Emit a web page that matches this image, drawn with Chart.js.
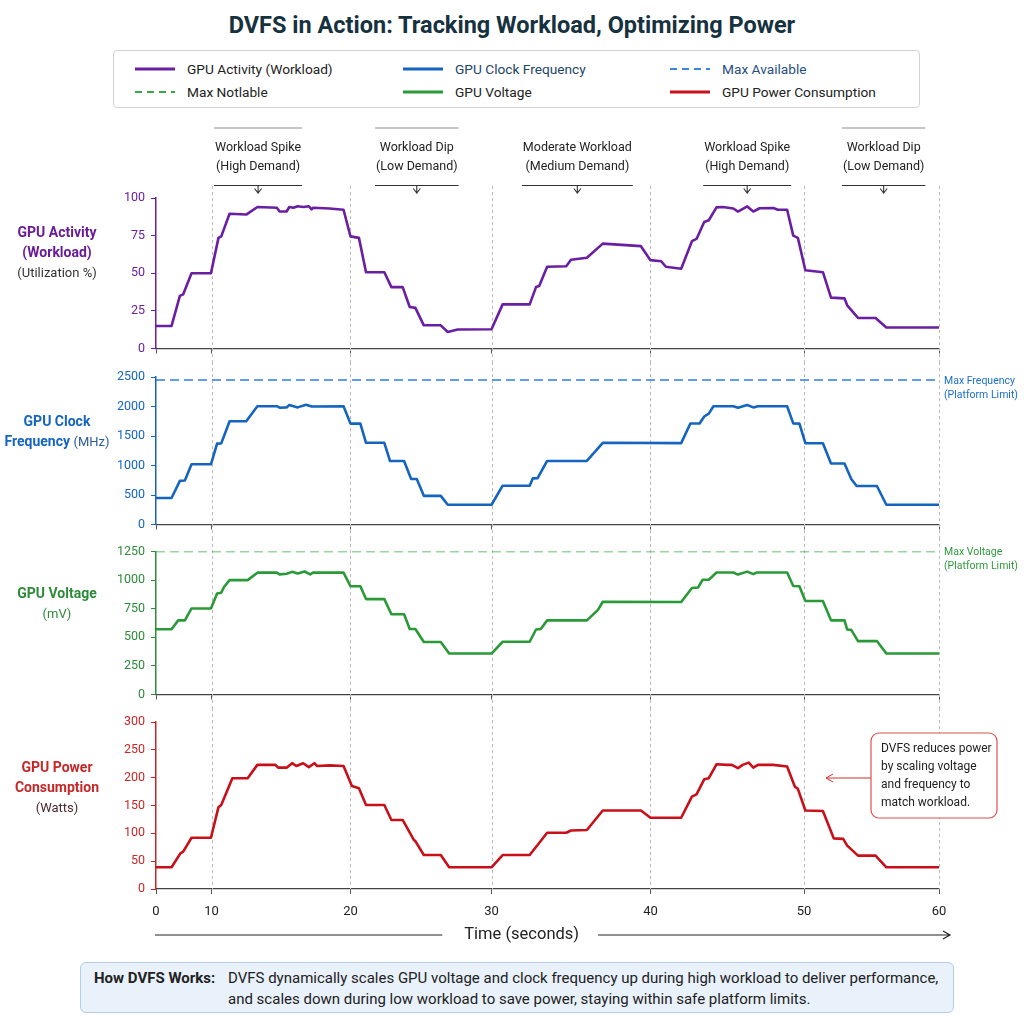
<!DOCTYPE html>
<html>
<head>
<meta charset="utf-8">
<script src="https://cdn.jsdelivr.net/npm/chart.js@4.4.1/dist/chart.umd.min.js"></script>
<style>
  body { margin: 0; background: #fff; font-family: Roboto, "Liberation Sans", sans-serif; }
  #page { position: relative; width: 1024px; height: 1024px; overflow: hidden; background: #fff; }
  canvas { position: absolute; left: 0; }
  #title { position: absolute; left: 0; width: 1024px; top: 11px; text-align: center; font-size: 23.5px; font-weight: bold; color: #17323f; }
  #legend { position: absolute; left: 113px; top: 50px; width: 805px; height: 56px; border: 1px solid #d3d3d3; border-radius: 4px; background: #fff; }
  .lg { position: absolute; font-size: 13.7px; line-height: 16px; white-space: nowrap; }
  .lg svg { position: absolute; left: 0; top: 6px; }
  .lg span { position: absolute; left: 52px; top: 0; }
  .ytitle { position: absolute; left: 0; width: 114px; text-align: center; font-size: 14px; line-height: 20px; }
  .ytitle .u { font-weight: normal; font-size: 13px; }
  #info { position: absolute; left: 80px; top: 962px; width: 872px; height: 49px; background: #e9f1fb; border: 1px solid #b5cde9; border-radius: 6px; font-size: 15px; color: #222; }
  #info b { position: absolute; left: 13px; top: 5px; line-height: 21px; }
  #info span { position: absolute; left: 147px; top: 5px; line-height: 21px; white-space: nowrap; }
</style>
</head>
<body>
<div id="page">
  <div id="title">DVFS in Action: Tracking Workload, Optimizing Power</div>
  <div id="legend"></div>

  <canvas id="c1" width="1024" height="250" style="top:112px"></canvas>
  <canvas id="c2" width="1024" height="176" style="top:362px"></canvas>
  <canvas id="c3" width="1024" height="170" style="top:538px"></canvas>
  <canvas id="c4" width="1024" height="242" style="top:708px"></canvas>

  <div class="ytitle" style="top:222px"><b style="color:#6a1b9a">GPU Activity</b><br><b style="color:#6a1b9a">(Workload)</b><br><span class="u" style="color:#333">(Utilization %)</span></div>
  <div class="ytitle" style="top:411px"><b style="color:#1565c0">GPU Clock</b><br><b style="color:#1565c0">Frequency</b> <span class="u" style="color:#2a5d9a">(MHz)</span></div>
  <div class="ytitle" style="top:583px"><b style="color:#2e8b3a">GPU Voltage</b><br><span class="u" style="color:#2e8b3a">(mV)</span></div>
  <div class="ytitle" style="top:757px"><b style="color:#c62828">GPU Power</b><br><b style="color:#c62828">Consumption</b><br><span class="u" style="color:#4a2a2a">(Watts)</span></div>

  <div id="info"><b>How DVFS Works:</b><span>DVFS dynamically scales GPU voltage and clock frequency up during high workload to deliver performance,<br>and scales down during low workload to save power, staying within safe platform limits.</span></div>
</div>

<script>
// time (s) / value pairs
const activity = [[0,15],[2.8,15],[4.3,35],[4.9,36],[6.4,50],[9.9,50],[10.5,73.5],[10.7,74.5],[11.3,89.5],[12.5,89],
  [13.3,94],[14.7,93.5],[14.9,91],[15.4,91],[15.6,94],[15.9,93.5],[16.2,94.5],[16.6,94],[17.0,94.5],[17.2,92.5],
  [17.3,93.5],[18.5,93],[19.5,92.2],[20.0,74.5],[20.6,73.5],[21.1,50.7],[22.4,50.7],[22.9,40.8],[23.7,40.8],[24.2,27.6],
  [24.6,27],[25.2,15.4],[26.4,15.4],[26.9,11],[27.6,12.6],[30.0,12.8],[30.7,29.3],[32.4,29.3],[32.8,40.8],[33.0,41.5],
  [33.5,54.3],[34.7,54.7],[35.0,59],[36.0,60.3],[37.0,69.7],[39.4,68],[40.0,58.7],[40.7,58],[41.0,54.3],[42.0,53],
  [42.7,71.3],[43.0,72.8],[43.5,84],[43.8,85.2],[44.3,93.8],[44.7,94],[45.4,93],[45.7,91],[46.3,94.4],[46.7,91],
  [47.1,93.2],[48.0,93.4],[48.3,92.2],[48.9,92.2],[49.3,75],[49.6,73.5],[50.1,52],[51.4,50.7],[52.0,33.8],[53.0,33.3],
  [53.2,28.7],[54.0,20.3],[55.3,20.3],[56.1,14],[60,14]];

const clockFreq = [[0,450],[2.8,450],[4.3,740],[5.2,745],[6.4,1020],[9.9,1020],[10.4,1370],[10.7,1375],[11.3,1750],[12.5,1750],
  [13.3,2005],[14.7,2005],[14.9,1980],[15.4,1985],[15.6,2025],[16.2,1985],[16.8,2030],[17.2,2000],[19.5,2005],[20.0,1710],
  [20.7,1710],[21.1,1385],[22.4,1385],[22.8,1077],[23.8,1077],[24.3,770],[24.7,770],[25.2,486],[26.4,486],[26.9,335],
  [30.0,335],[30.7,658],[32.4,658],[32.6,782],[32.9,785],[33.5,1077],[36.0,1077],[37.0,1385],[42.0,1380],[42.6,1713],
  [43.2,1713],[43.5,1830],[43.8,1880],[44.1,2005],[45.4,2005],[45.7,1980],[46.3,2025],[46.7,1985],[47.0,2005],[48.9,2005],
  [49.3,1713],[49.7,1710],[50.1,1378],[51.4,1378],[52.0,1033],[53.0,1033],[53.5,770],[53.9,653],[55.4,653],[56.1,335],[60,335]];

const voltage = [[0,570],[2.8,570],[4.0,648],[5.2,648],[6.4,752],[9.9,752],[10.4,883],[10.7,890],[10.9,940],[11.3,1000],
  [12.6,1000],[13.3,1065],[14.7,1065],[14.9,1050],[15.4,1055],[15.8,1072],[16.2,1058],[16.7,1075],[17.1,1050],[17.3,1065],
  [19.5,1065],[20.0,946],[20.7,946],[21.1,834],[22.4,834],[22.9,702],[23.8,702],[24.2,573],[24.6,573],[25.2,459],
  [26.4,459],[27.0,358],[30.0,358],[30.7,461],[32.4,461],[32.8,568],[33.1,572],[33.5,648],[36.0,648],[36.7,740],
  [37.0,811],[42.0,808],[42.7,931],[43.1,935],[43.4,1003],[43.8,1003],[44.3,1066],[45.4,1066],[45.7,1048],[46.3,1074],
  [46.7,1052],[46.9,1066],[48.9,1066],[49.3,949],[49.7,946],[50.1,817],[51.4,817],[52.0,648],[53.0,648],[53.2,568],
  [53.5,565],[54.0,467],[55.4,467],[56.1,358],[60,358]];

const power = [[0,39],[2.8,39],[4.4,64],[4.9,67],[6.4,92],[9.9,92],[10.5,147],[10.7,151],[11.5,199],[12.6,199],
  [13.3,223],[14.6,223],[14.8,218],[15.4,218],[15.8,226],[16.1,221],[16.6,226],[17.0,219],[17.4,226],[17.6,221],
  [18.5,222],[19.5,221],[20.1,185],[20.6,181],[21.1,151],[22.4,151],[22.9,124],[23.7,124],[24.5,88],[24.6,86],
  [25.2,61],[26.4,61],[27.0,39],[30.0,39],[30.7,61],[32.4,61],[32.9,79],[33.5,101],[34.7,101],[35.0,105],
  [36.0,106],[37.0,141],[39.4,141],[40.0,128],[42.0,128],[42.7,166],[43.0,170],[43.5,197],[43.8,199],[44.3,224],
  [45.0,223],[45.3,223],[45.7,217],[46.0,223],[46.4,227],[46.7,218],[47.0,223],[48.0,223],[48.9,220],[49.4,184],
  [49.6,180],[50.1,141],[51.4,140],[52.2,91],[52.9,90],[53.2,78],[54.0,60],[55.3,60],[56.1,39],[60,39]];

const maxFreq = 2450;     // MHz, platform limit
const maxVoltage = 1250;  // mV, platform limit

// phase annotations above the top panel
const phaseTimes = [13.35, 24.7, 35.4, 46.3, 55.9];
const phaseTitles = ['Workload Spike', 'Workload Dip', 'Moderate Workload', 'Workload Spike', 'Workload Dip'];
const phaseDemand = ['(High Demand)', '(Low Demand)', '(Medium Demand)', '(High Demand)', '(Low Demand)'];
const phaseRule = [true, true, false, false, true]; // faint rule above some labels

const calloutLines = ['DVFS reduces power', 'by scaling voltage', 'and frequency to', 'match workload.'];

// the time axis of the original is not evenly spaced: where each 10 s mark sits along the axis
const timeBreaks = [0, 10, 20, 30, 40, 50, 60];
const breakFrac = [0, 0.0709, 0.2484, 0.4285, 0.6315, 0.8276, 1];

const purple = '#6a1fa2', blue = '#1565c0', green = '#2a9a38', red = '#c8101a';

function interp(v, from, to) {
  if (v <= from[0]) return to[0];
  for (let i = 1; i < from.length; i++) {
    if (v <= from[i]) {
      const k = (v - from[i - 1]) / (from[i] - from[i - 1]);
      return to[i - 1] + k * (to[i] - to[i - 1]);
    }
  }
  return to[to.length - 1];
}

class PiecewiseScale extends Chart.LinearScale {
  getPixelForValue(v) { return this.getPixelForDecimal(interp(v, timeBreaks, breakFrac)); }
  getValueForPixel(p) { return interp(this.getDecimalForPixel(p), breakFrac, timeBreaks); }
}
PiecewiseScale.id = 'piecewise';
PiecewiseScale.defaults = Chart.LinearScale.defaults;
Chart.register(PiecewiseScale);

Chart.defaults.font.family = "Roboto, 'Liberation Sans', sans-serif";

const toXY = arr => arr.map(([x, y]) => ({ x, y }));

// legend (html, 3 columns)
const legendItems = [
  { label: 'GPU Activity (Workload)', color: purple, dash: false, text: '#222' },
  { label: 'GPU Clock Frequency', color: blue, dash: false, text: '#1d4566' },
  { label: 'Max Available', color: '#3d85d8', dash: true, text: '#1f4f80' },
  { label: 'Max Notlable', color: '#3aa84a', dash: true, text: '#222' },
  { label: 'GPU Voltage', color: green, dash: false, text: '#222' },
  { label: 'GPU Power Consumption', color: red, dash: false, text: '#222' }
];
const legendEl = document.getElementById('legend');
legendItems.forEach((it, i) => {
  const d = document.createElement('div');
  d.className = 'lg';
  d.style.left = [21, 289, 556][i % 3] + 'px';
  d.style.top = (i < 3 ? 10 : 33) + 'px';
  d.innerHTML = `<svg width="42" height="4"><line x1="0" y1="2" x2="40" y2="2" stroke="${it.color}" stroke-width="${it.dash ? 2 : 3}" ${it.dash ? 'stroke-dasharray="7,5"' : ''}/></svg><span style="color:${it.text}">${it.label}</span>`;
  legendEl.appendChild(d);
});

// dashed vertical grid that runs through the gaps between panels
const vGrid = {
  id: 'vGrid',
  beforeDatasetsDraw(chart, args, o) {
    const { ctx, scales: { x } } = chart;
    const top = o.top != null ? o.top : 0;
    const bottom = o.bottom != null ? o.bottom : chart.height;
    ctx.save();
    ctx.strokeStyle = '#b9b9b9';
    ctx.lineWidth = 1;
    ctx.setLineDash([3, 3]);
    x.ticks.forEach(t => {
      if (t.value === 0) return;
      const px = Math.round(x.getPixelForValue(t.value)) + 0.5;
      ctx.beginPath();
      ctx.moveTo(px, top);
      ctx.lineTo(px, bottom);
      ctx.stroke();
    });
    ctx.restore();
  }
};

// "Max ... (Platform Limit)" text at the right end of a limit line
const limitLabel = {
  id: 'limitLabel',
  afterDatasetsDraw(chart, args, o) {
    if (!o.lines) return;
    const { ctx, chartArea, scales: { y } } = chart;
    const py = y.getPixelForValue(o.value);
    ctx.save();
    ctx.font = "10.5px Roboto, 'Liberation Sans', sans-serif";
    ctx.fillStyle = o.color;
    ctx.textBaseline = 'middle';
    o.lines.forEach((l, i) => ctx.fillText(l, chartArea.right + 5, py + 1 + i * 14));
    ctx.restore();
  }
};

const phaseNotes = {
  id: 'phaseNotes',
  afterDraw(chart) {
    const { ctx, scales: { x } } = chart;
    ctx.save();
    ctx.font = "12.5px Roboto, 'Liberation Sans', sans-serif";
    ctx.fillStyle = '#222';
    ctx.textAlign = 'center';
    ctx.textBaseline = 'middle';
    phaseTimes.forEach((t, i) => {
      const px = x.getPixelForValue(t);
      ctx.fillText(phaseTitles[i], px, 36);
      ctx.fillText(phaseDemand[i], px, 55);
      const half = Math.max(ctx.measureText(phaseTitles[i]).width, ctx.measureText(phaseDemand[i]).width) / 2 + 1;
      if (phaseRule[i]) {
        ctx.strokeStyle = '#c6c6c6';
        ctx.lineWidth = 2;
        ctx.beginPath();
        ctx.moveTo(px - half, 16);
        ctx.lineTo(px + half, 16);
        ctx.stroke();
      }
      ctx.strokeStyle = '#333';
      ctx.lineWidth = 1.1;
      ctx.beginPath();
      ctx.moveTo(px - half, 73.5);
      ctx.lineTo(px + half, 73.5);
      ctx.moveTo(px, 73.5);
      ctx.lineTo(px, 81);
      ctx.moveTo(px - 3.5, 76.5);
      ctx.lineTo(px, 81);
      ctx.lineTo(px + 3.5, 76.5);
      ctx.stroke();
    });
    ctx.restore();
  }
};

const powerNotes = {
  id: 'powerNotes',
  afterDraw(chart) {
    const { ctx, chartArea, scales: { x } } = chart;
    ctx.save();
    // callout box
    const bx = chartArea.right - 68, by = 25, bw = 126, bh = 85;
    ctx.fillStyle = '#fff';
    ctx.strokeStyle = '#d9534f';
    ctx.lineWidth = 1.2;
    ctx.beginPath();
    ctx.roundRect(bx, by, bw, bh, 8);
    ctx.fill();
    ctx.stroke();
    ctx.fillStyle = '#222';
    ctx.font = "12px Roboto, 'Liberation Sans', sans-serif";
    ctx.textBaseline = 'middle';
    calloutLines.forEach((l, i) => ctx.fillText(l, bx + 10, by + 16 + i * 18));
    // arrow pointing at the curve
    const ay = by + 45, tip = bx - 45;
    ctx.strokeStyle = '#d03030';
    ctx.lineWidth = 1;
    ctx.beginPath();
    ctx.moveTo(bx, ay); ctx.lineTo(tip, ay);
    ctx.moveTo(tip + 7, ay - 4); ctx.lineTo(tip, ay); ctx.lineTo(tip + 7, ay + 4);
    ctx.stroke();

    // axis title with arrow
    const ty = chartArea.bottom + 46;
    const cx = x.left + 0.467 * (x.right - x.left);
    ctx.font = "16.5px Roboto, 'Liberation Sans', sans-serif";
    ctx.fillStyle = '#222';
    ctx.textAlign = 'center';
    ctx.fillText('Time (seconds)', cx, ty);
    const w = ctx.measureText('Time (seconds)').width / 2;
    ctx.strokeStyle = '#222';
    ctx.lineWidth = 1.2;
    const end = x.right + 11;
    ctx.beginPath();
    ctx.moveTo(x.left - 1, ty); ctx.lineTo(cx - w - 22, ty);
    ctx.moveTo(cx + w + 19, ty); ctx.lineTo(end, ty);
    ctx.moveTo(end - 7, ty - 4); ctx.lineTo(end, ty); ctx.lineTo(end - 7, ty + 4);
    ctx.stroke();
    ctx.restore();
  }
};

function makePanel(id, p) {
  return new Chart(document.getElementById(id), {
    type: 'line',
    data: { datasets: p.datasets },
    options: {
      responsive: false,
      animation: false,
      layout: { padding: { top: p.padTop, right: 85, bottom: p.padBottom || 0, left: 0 } },
      elements: { point: { radius: 0 }, line: { tension: 0, borderJoinStyle: 'round' } },
      plugins: {
        legend: { display: false },
        tooltip: { enabled: false },
        vGrid: p.vGrid || {},
        limitLabel: p.limit || {}
      },
      scales: {
        x: {
          type: 'piecewise',
          min: 0,
          max: 60,
          ticks: {
            stepSize: 10, display: !!p.showX, autoSkip: false, maxRotation: 0,
            color: '#222', font: { size: 13 }, padding: 10,
            callback: v => v
          },
          grid: { drawOnChartArea: false, drawTicks: true, tickLength: 5, color: '#555' },
          border: { color: '#444', width: 1.3 },
          afterFit: s => { s.height = p.xHeight; }
        },
        y: {
          min: 0,
          max: p.max,
          ticks: { stepSize: p.step, color: p.color, font: { size: 12.5 }, padding: 6, callback: v => v },
          grid: { drawOnChartArea: false, drawTicks: true, tickLength: 5, color: p.color },
          border: { color: p.color, width: 1.5 },
          afterFit: s => { s.width = 156; }
        }
      }
    },
    plugins: [vGrid, limitLabel].concat(p.extra || [])
  });
}

const lineDs = (data, color) => ({ data: toXY(data), borderColor: color, borderWidth: 2.6, fill: false });
const limitDs = (value, color) => ({
  data: toXY([[0, value], [60, value]]), borderColor: color, borderWidth: 1.6, borderDash: [9, 5], fill: false
});

makePanel('c1', {
  datasets: [lineDs(activity, purple)],
  max: 100, step: 25, color: purple, padTop: 86, xHeight: 13,
  vGrid: { top: 74 }, extra: [phaseNotes]
});

makePanel('c2', {
  datasets: [lineDs(clockFreq, blue), limitDs(maxFreq, '#2f7fe0')],
  max: 2500, step: 500, color: blue, padTop: 15, xHeight: 12,
  limit: { value: maxFreq, color: '#1a6fd0', lines: ['Max Frequency', '(Platform Limit)'] }
});

makePanel('c3', {
  datasets: [lineDs(voltage, green), limitDs(maxVoltage, '#3aa84a')],
  max: 1250, step: 250, color: '#2e8b3a', padTop: 13, xHeight: 12,
  limit: { value: maxVoltage, color: '#2e9b3e', lines: ['Max Voltage', '(Platform Limit)'] }
});

makePanel('c4', {
  datasets: [lineDs(power, red)],
  max: 300, step: 50, color: '#c62828', padTop: 14, padBottom: 25, xHeight: 36, showX: true,
  vGrid: { bottom: 181 }, extra: [powerNotes]
});
</script>
</body>
</html>
